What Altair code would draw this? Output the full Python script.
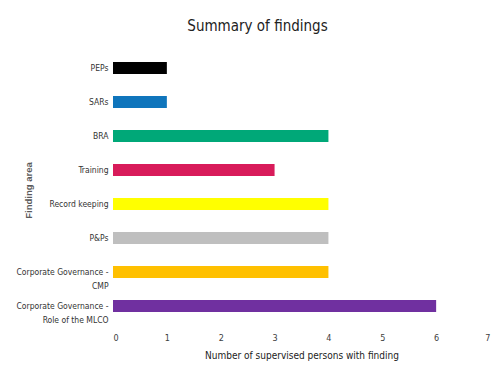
import altair as alt
import pandas as pd

categories = ["PEPs", "SARs", "BRA", "Training", "Record keeping", "P&Ps",
              "Corporate Governance -|CMP", "Corporate Governance -|Role of the MLCO"]
values = [1, 1, 4, 3, 4, 4, 4, 6]
colors = ["#000000", "#0F75BC", "#00A878", "#D81B5A", "#FFFF00", "#BFBFBF", "#FFC000", "#7030A0"]

df = pd.DataFrame({"area": categories, "count": values})

FONT = "Liberation Sans Narrow, DejaVu Sans Condensed, sans-serif"

chart = alt.Chart(df).mark_bar().encode(
    x=alt.X("count:Q",
            scale=alt.Scale(domain=[0, 7], nice=False),
            axis=alt.Axis(title="Number of supervised persons with finding",
                          values=[0, 1, 2, 3, 4, 5, 6, 7], domain=False, ticks=False,
                          grid=False, labelPadding=10, titlePadding=8,
                          labelFont=FONT, labelFontSize=9, labelColor="#404040",
                          titleFont=FONT, titleFontSize=10, titleColor="#222222",
                          titleFontWeight="normal")),
    y=alt.Y("area:N", sort=categories,
            scale=alt.Scale(paddingInner=0.647, paddingOuter=0.3235),
            axis=alt.Axis(title="Finding area", domain=False, ticks=False, grid=False,
                          labelExpr="split(datum.label, '|')",
                          labelPadding=5, labelFont=FONT, labelFontSize=8.5,
                          labelColor="#333333", labelLineHeight=14,
                          titleFont="Liberation Sans", titleFontSize=9.5,
                          titleFontWeight="bold", titleColor="#5a5a5a",
                          titleX=-80, titleY=139)),
    color=alt.Color("area:N", scale=alt.Scale(domain=categories, range=colors), legend=None),
).properties(
    width=377, height=272,
    title=alt.TitleParams("Summary of findings", font=FONT, fontSize=15,
                          fontWeight="normal", color="#222222", anchor="middle",
                          dx=-44, offset=17),
    padding={"left": 105, "top": 43, "right": 2, "bottom": 48},
    autosize=alt.AutoSizeParams(type="none"),
).configure_view(stroke=None)

chart.save("out.html", embed_options={"renderer": "svg", "actions": False})
